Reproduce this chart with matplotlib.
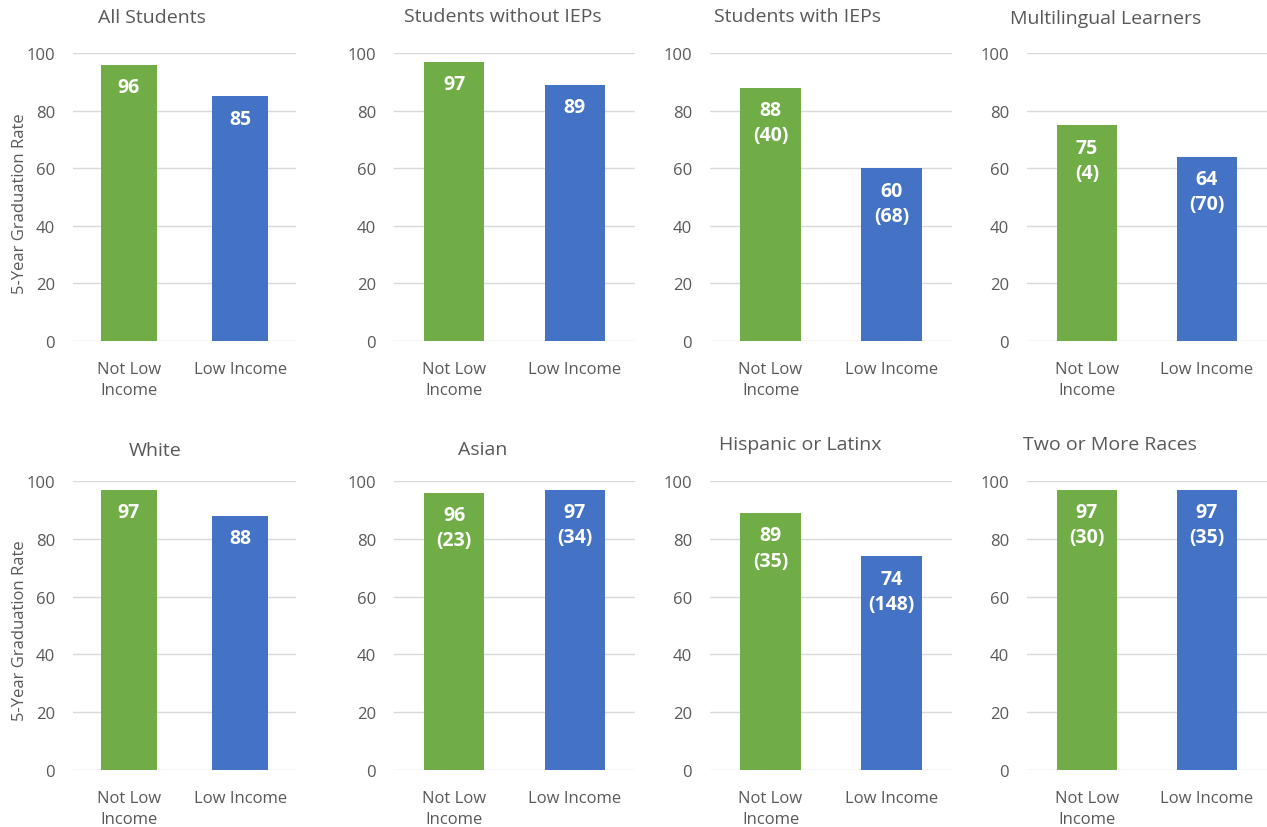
import matplotlib
matplotlib.use("Agg")
import matplotlib.pyplot as plt

plt.rcParams["font.family"] = ["Open Sans", "DejaVu Sans"]

# Graduation rates by income status for each student group
titles = ["All Students", "Students without IEPs", "Students with IEPs",
          "Multilingual Learners", "White", "Asian", "Hispanic or Latinx",
          "Two or More Races"]
categories = ["Not Low\nIncome", "Low Income"]
not_low_rate = [96, 97, 88, 75, 97, 96, 89, 97]
low_rate = [85, 89, 60, 64, 88, 97, 74, 97]
# Number of students (shown in parentheses where reported)
not_low_n = [None, None, 40, 4, None, 23, 35, 30]
low_n = [None, None, 68, 70, None, 34, 148, 35]
y_ticks = [0, 20, 40, 60, 80, 100]
y_label = "5-Year Graduation Rate"

GREEN = "#70AD47"
BLUE = "#4472C4"
TEXT = "#595959"
GRID = "#D9D9D9"

W, H = 1267, 828
fig = plt.figure(figsize=(W / 100, H / 100), dpi=100)

# panel placement in pixels: (left, right) per column, (top, bottom) per row
cols = [(73, 296), (394, 635), (710, 952), (1027, 1267)]
rows = [(54, 342), (482, 771)]
title_pos = [(152, 18), (503, 17), (797, 17), (1106, 19),
             (155, 451), (483, 450), (800, 445), (1110, 445)]
ylabel_pos = [(20, 204), (20, 631)]


def label_text(rate, n):
    return f"{rate}" if n is None else f"{rate}\n({n})"


for i, title in enumerate(titles):
    r, c = divmod(i, 4)
    l, rt = cols[c]
    t, b = rows[r]
    ax = fig.add_axes([l / W, 1 - b / H, (rt - l) / W, (b - t) / H])
    vals = [not_low_rate[i], low_rate[i]]
    ns = [not_low_n[i], low_n[i]]
    bars = ax.bar([0, 1], vals, width=0.5, color=[GREEN, BLUE], zorder=2)
    ax.set_xlim(-0.5, 1.5)
    ax.set_ylim(0, 100)
    ax.set_yticks(y_ticks)
    ax.yaxis.grid(True, color=GRID, linewidth=1.0, zorder=0)
    ax.set_axisbelow(True)
    for s in ax.spines.values():
        s.set_visible(False)
    ax.tick_params(axis="both", length=0, colors=TEXT, labelsize=12)
    ax.tick_params(axis="y", pad=13)
    ax.tick_params(axis="x", pad=14.5)
    ax.set_xticks([0, 1])
    ax.set_xticklabels(categories, linespacing=1.4)
    for bar, v, n in zip(bars, vals, ns):
        ax.annotate(label_text(v, n), xy=(bar.get_x() + bar.get_width() / 2, v),
                    xytext=(0, -9), textcoords="offset points",
                    ha="center", va="top", color="white", fontsize=14,
                    fontweight="bold", linespacing=1.35)
    if c == 0:
        lx, ly = ylabel_pos[r]
        fig.text(lx / W, 1 - ly / H, y_label, rotation=90, ha="center",
                 va="center", color=TEXT, fontsize=12)
    tx, ty = title_pos[i]
    fig.text(tx / W, 1 - ty / H, title, ha="center", va="center",
             fontsize=14, color=TEXT)

fig.savefig("out.png", dpi=100, facecolor="white")
